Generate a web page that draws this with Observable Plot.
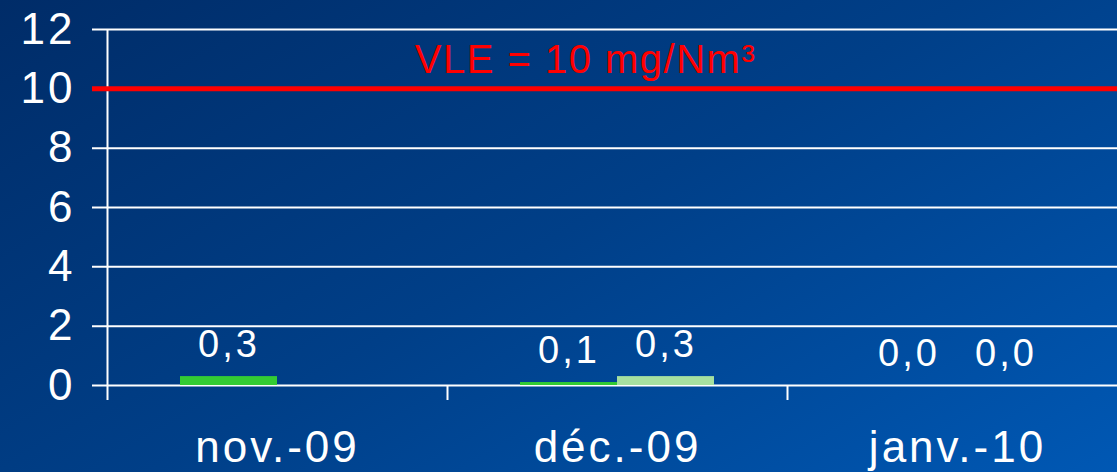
<!DOCTYPE html>
<html>
<head>
<meta charset="utf-8">
<script src="https://cdn.jsdelivr.net/npm/d3@7"></script>
<script src="https://cdn.jsdelivr.net/npm/@observablehq/plot@0.6"></script>
<style>
  html, body { margin: 0; padding: 0; overflow: hidden; background: #003a80; }
  svg text { letter-spacing: 3px; }
  svg text.vle, svg .vle text { letter-spacing: 1.5px; }
</style>
</head>
<body>
<div id="chart"></div>
<script>
const categories = ["nov.-09", "déc.-09", "janv.-10"];
const series1 = [0.3, 0.1, 0.0];
const series2 = [null, 0.3, 0.0];
const yTicks = [0, 2, 4, 6, 8, 10, 12];
const limitValue = 10;
const limitLabel = "VLE = 10 mg/Nm³";

const fmt = v => v.toFixed(1).replace(".", ",");
const rows1 = categories.map((c, i) => ({cat: c, v: series1[i]})).filter(d => d.v != null);
const rows2 = categories.map((c, i) => ({cat: c, v: series2[i]})).filter(d => d.v != null);

const font = "'Liberation Sans', Arial, sans-serif";

const chart = Plot.plot({
  width: 1117,
  height: 472,
  marginLeft: 107,
  marginRight: -10,
  marginTop: 29,
  marginBottom: 87,
  style: {
    background: "linear-gradient(150deg, #002c68 0%, #003f88 50%, #0058b4 100%)",
    color: "white",
    fontFamily: font
  },
  x: {domain: categories, padding: 0, label: null},
  y: {domain: [0, 12], label: null},
  marks: [
    Plot.ruleY(yTicks, {stroke: "white", strokeWidth: 2, insetLeft: -15}),
    Plot.ruleX([categories[0]], {x: d => d, dx: -170, y1: 12, y2: 0, insetBottom: -15, stroke: "white", strokeWidth: 2}),
    Plot.ruleX(categories.slice(1), {x: d => d, dx: -170, y1: 0, y2: 0, insetBottom: -15, stroke: "white", strokeWidth: 2}),
    Plot.barY(rows1, {x: "cat", y: "v", fill: "#33cc33", insetLeft: 73, insetRight: 170}),
    Plot.barY(rows2, {x: "cat", y: "v", fill: "#a6e0a0", insetLeft: 170, insetRight: 73}),
    Plot.text(rows1, {x: "cat", y: "v", text: d => fmt(d.v), dx: -48.5, dy: -20, lineAnchor: "bottom", fill: "white", fontSize: 38}),
    Plot.text(rows2, {x: "cat", y: "v", text: d => fmt(d.v), dx: 48.5, dy: -20, lineAnchor: "bottom", fill: "white", fontSize: 38}),
    Plot.ruleY([limitValue], {stroke: "#ff0000", strokeWidth: 5, insetLeft: -15}),
    Plot.text([limitLabel], {x: () => categories[1], y: () => limitValue, text: d => d, dx: -32, dy: -16, lineAnchor: "bottom", fill: "#ff0000", fontSize: 40, className: "vle"}),
    Plot.axisY({ticks: yTicks, tickSize: 0, tickPadding: 32, fontSize: 44, tickFormat: d => String(d)}),
    Plot.axisX({tickSize: 0, tickPadding: 45, fontSize: 44})
  ]
});
document.getElementById("chart").appendChild(chart);
</script>
</body>
</html>
